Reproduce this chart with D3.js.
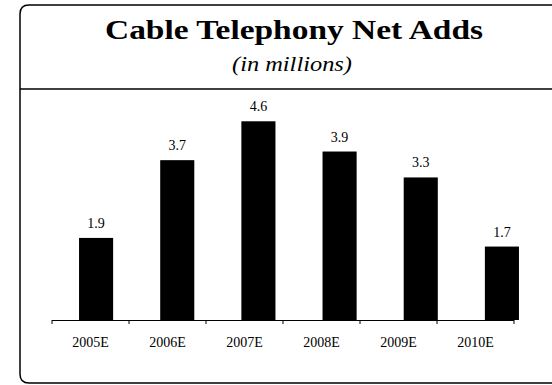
<!DOCTYPE html>
<html><head><meta charset="utf-8">
<script src="https://cdn.jsdelivr.net/npm/d3@7"></script>
<style>html,body{margin:0;padding:0;background:#fff;}svg{display:block;}</style>
</head><body>
<script>
const categories = ["2005E","2006E","2007E","2008E","2009E","2010E"];
const values = [1.9, 3.7, 4.6, 3.9, 3.3, 1.7];
const valueLabels = ["1.9","3.7","4.6","3.9","3.3","1.7"];
const titleText = "Cable Telephony Net Adds";
const subtitleText = "(in millions)";

const W = 552, H = 385;
const svg = d3.select("body").append("svg").attr("width", W).attr("height", H);
const serif = "'Liberation Serif','DejaVu Serif',serif";

// frame
svg.append("path")
  .attr("d", "M 560 5 L 29 5 Q 20 5 20 14 L 20 374 Q 20 383 29 383 L 560 383")
  .attr("fill", "none").attr("stroke", "#000").attr("stroke-width", 1.5);
svg.append("line").attr("x1", 20).attr("x2", 552).attr("y1", 89).attr("y2", 89)
  .attr("stroke", "#000").attr("stroke-width", 1.3);

svg.append("text").attr("x", 294).attr("y", 39).attr("text-anchor", "middle")
  .attr("font-family", serif).attr("font-weight", "bold").attr("font-size", 28)
  .attr("textLength", 378).attr("lengthAdjust", "spacingAndGlyphs")
  .text(titleText);
svg.append("text").attr("x", 292).attr("y", 71).attr("text-anchor", "middle")
  .attr("font-family", serif).attr("font-style", "italic").attr("font-size", 21)
  .attr("textLength", 120).attr("lengthAdjust", "spacingAndGlyphs")
  .text(subtitleText);

// scales
const xAxisScale = d3.scaleBand().domain(categories).range([52, 514]);
const xBar = d3.scaleBand().domain(categories).range([55.5, 542.5]).paddingInner(0.58).paddingOuter(0.29);
const y = d3.scaleLinear().domain([0, 5]).range([320, 104]);

// bars
svg.append("g").selectAll("rect").data(values).join("rect")
  .attr("x", (d, i) => xBar(categories[i]))
  .attr("width", xBar.bandwidth())
  .attr("y", d => y(d))
  .attr("height", d => y(0) - y(d))
  .attr("fill", "#000");

svg.append("g").selectAll("text").data(values).join("text")
  .attr("x", (d, i) => xBar(categories[i]) + xBar.bandwidth() / 2)
  .attr("y", d => y(d) - 10)
  .attr("text-anchor", "middle")
  .attr("font-family", serif).attr("font-size", 14)
  .text((d, i) => valueLabels[i]);

// axis
const ax = svg.append("g");
ax.append("line").attr("x1", xAxisScale.range()[0]).attr("x2", xAxisScale.range()[1])
  .attr("y1", y(0) + 0.5).attr("y2", y(0) + 0.5).attr("stroke", "#000").attr("stroke-width", 1.2);
const edges = categories.map(c => xAxisScale(c)).concat([xAxisScale.range()[1]]);
ax.selectAll("line.tick").data(edges).join("line").attr("class", "tick")
  .attr("x1", d => d).attr("x2", d => d).attr("y1", y(0)).attr("y2", y(0) + 4)
  .attr("stroke", "#000").attr("stroke-width", 1);
ax.selectAll("text").data(categories).join("text")
  .attr("x", d => xAxisScale(d) + xAxisScale.bandwidth() / 2)
  .attr("y", 347)
  .attr("text-anchor", "middle")
  .attr("font-family", serif).attr("font-size", 14)
  .text(d => d);
</script>
</body></html>
